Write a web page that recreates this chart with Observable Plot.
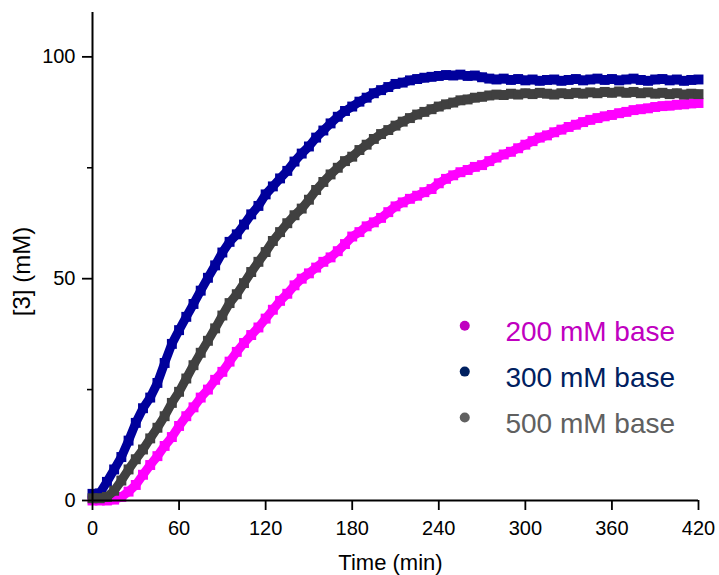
<!DOCTYPE html>
<html>
<head>
<meta charset="utf-8">
<script src="https://cdn.jsdelivr.net/npm/d3@7"></script>
<script src="https://cdn.jsdelivr.net/npm/@observablehq/plot@0.6"></script>
<style>
  html, body { margin: 0; padding: 0; background: #ffffff; }
  #chart { width: 719px; height: 575px; overflow: hidden; }
</style>
</head>
<body>
<div id="chart"></div>
<script>
// Time points (min), every 5 min from 0 to 420
const times = d3.range(0, 425, 5);

// [3] (mM) for each base concentration
const base200 = [
  0.0, 0.0, 0.0, 0.2, 0.8, 2.0, 3.5, 5.8, 8.0, 10.0,
  12.3, 14.3, 16.8, 19.0, 21.0, 23.2, 25.0, 27.2, 29.0, 31.3,
  33.5, 35.5, 37.3, 39.0, 41.0, 43.0, 45.0, 46.6, 48.5, 50.0,
  51.2, 52.5, 53.8, 54.8, 56.2, 57.8, 59.5, 60.5, 61.8, 62.7,
  63.7, 65.0, 66.3, 67.2, 68.0, 68.7, 69.5, 70.2, 71.5, 72.5,
  73.3, 74.0, 74.5, 75.2, 75.6, 76.5, 77.3, 78.0, 78.6, 79.4,
  80.2, 81.0, 81.8, 82.3, 83.0, 83.6, 84.2, 84.7, 85.3, 85.8,
  86.2, 86.6, 86.9, 87.3, 87.6, 88.0, 88.2, 88.4, 88.7, 88.9,
  89.0, 89.2, 89.3, 89.5, 89.6
];
const base300 = [
  1.5, 1.6, 4.2, 7.0, 9.8, 13.5, 17.5, 20.8, 23.2, 26.5,
  31.0, 35.3, 38.4, 41.4, 44.3, 47.3, 50.2, 53.0, 55.9, 58.3,
  60.0, 62.2, 64.5, 66.4, 69.0, 70.8, 72.6, 74.3, 76.4, 78.2,
  79.8, 81.8, 83.4, 85.0, 86.5, 87.8, 88.8, 89.9, 90.8, 91.8,
  92.5, 93.2, 93.9, 94.2, 94.7, 95.0, 95.3, 95.5, 95.7, 95.9,
  95.8, 96.0, 95.7, 95.8, 95.4, 95.1, 94.9, 95.1, 94.8, 95.0,
  94.7, 94.9, 94.6, 94.8, 94.9, 94.6, 94.8, 95.0, 94.7, 94.9,
  95.1, 94.8, 95.0, 94.7, 94.9, 95.1, 94.8, 94.6, 94.9, 95.0,
  94.7, 94.9, 94.6, 94.8, 94.9
];
const base500 = [
  0.5, 0.5, 0.8, 2.2, 4.5, 7.0, 9.3, 11.5, 14.0, 16.4,
  19.0, 22.0, 24.5, 27.5, 30.5, 33.3, 36.0, 38.8, 41.7, 44.5,
  46.5, 49.0, 51.5, 53.8, 56.0, 58.5, 60.5, 62.5, 64.3, 65.8,
  67.8, 70.0, 71.8, 73.5, 75.0, 76.5, 77.5, 79.0, 80.2, 81.5,
  82.6, 83.5, 84.5, 85.4, 86.2, 87.0, 87.6, 88.2, 88.8, 89.3,
  89.7, 90.2, 90.4, 90.8, 91.0, 91.3, 91.5, 91.4, 91.7, 91.5,
  91.8, 91.6, 91.9, 91.7, 91.5, 91.8, 91.6, 91.9, 91.7, 92.0,
  91.8, 92.1, 91.9, 92.2, 91.9, 92.1, 91.8, 92.0, 91.7, 91.9,
  91.6, 91.8, 91.5, 91.7, 91.6
];

const seriesNames = ["200 mM base", "300 mM base", "500 mM base"];
const seriesValues = [base200, base300, base500];
const seriesColors = ["#ff00ff", "#00009c", "#404040"];
const legendColors = ["#c000c0", "#002060", "#606060"];

const xTicks = [0, 60, 120, 180, 240, 300, 360, 420];
const yTicks = [0, 50, 100];
const yMinorTicks = [25, 75];

const seriesMarks = seriesValues.flatMap((vals, k) => {
  const rows = times.map((t, i) => ({t, v: vals[i]}));
  return [
    Plot.line(rows, {x: "t", y: "v", stroke: seriesColors[k], strokeWidth: 9, strokeLinejoin: "miter"}),
    Plot.dot(rows, {x: "t", y: "v", symbol: "square", r: 5.6, fill: seriesColors[k], stroke: "none"})
  ];
});

const legendRows = seriesNames.map((name, i) => ({name, i}));

const chart = Plot.plot({
  width: 719,
  height: 575,
  marginLeft: 92,
  marginRight: 21,
  marginTop: 12,
  marginBottom: 75,
  style: {fontFamily: "'Liberation Sans', Arial, sans-serif", background: "#ffffff", color: "#000"},
  x: {domain: [0, 420]},
  y: {domain: [0, 110]},
  marks: [
    ...seriesMarks,
    Plot.ruleX([0], {stroke: "#000", strokeWidth: 2}),
    Plot.ruleY([0], {stroke: "#000", strokeWidth: 2}),
    Plot.axisX({ticks: xTicks, tickSize: 10, tickPadding: 10, fontSize: 20, strokeWidth: 1.8, label: null, fill: "#000"}),
    Plot.axisY({ticks: yTicks, tickSize: 10, tickPadding: 7, fontSize: 20, strokeWidth: 1.8, label: null, fill: "#000"}),
    Plot.axisY({ticks: yMinorTicks, tickSize: 5, strokeWidth: 1.6, tickFormat: () => "", label: null}),
    Plot.text(["Time (min)"], {frameAnchor: "bottom", lineAnchor: "top", dx: -5, dy: 54, fontSize: 22, fill: "#000"}),
    Plot.text(["[3] (mM)"], {frameAnchor: "left", textAnchor: "middle", lineAnchor: "middle", rotate: -90, dx: -70, dy: 15, fontSize: 24, fill: "#000"}),
    Plot.dot(legendRows, {x: () => 258, y: d => 39.4 - 10.35 * d.i, r: 5, fill: d => legendColors[d.i], stroke: "none"}),
    Plot.text(legendRows, {x: () => 286.2, y: d => 39.4 - 10.35 * d.i, text: "name", textAnchor: "start", dy: 6, fontSize: 28, fill: d => legendColors[d.i]})
  ]
});

document.getElementById("chart").appendChild(chart);
</script>
</body>
</html>
